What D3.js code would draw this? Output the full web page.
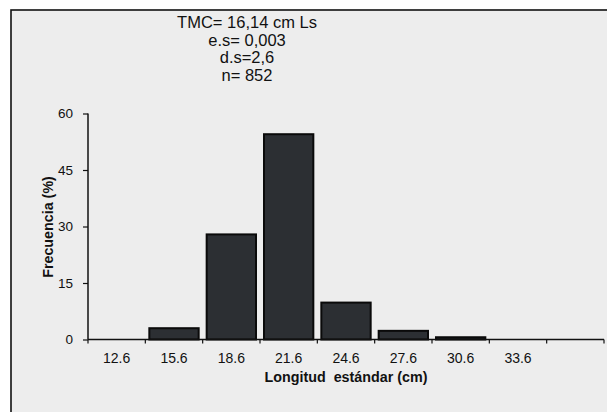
<!DOCTYPE html>
<html><head><meta charset="utf-8">
<script src="https://cdn.jsdelivr.net/npm/d3@7"></script>
<style>
html,body{margin:0;padding:0;background:#fff;}
svg{display:block;font-family:"Liberation Sans",Arial,sans-serif;}
</style></head>
<body>
<svg id="c" width="607" height="412"></svg>
<script>
const categories = ["12.6","15.6","18.6","21.6","24.6","27.6","30.6","33.6",""];
const frecuencia = [0, 3.0, 27.9, 54.5, 9.8, 2.3, 0.6, 0, 0];
const yTicks = [0, 15, 30, 45, 60];
const statLines = ["TMC= 16,14 cm Ls", "e.s= 0,003", "d.s=2,6", "n= 852"];
const xTitle = "Longitud\u00a0 estándar (cm)";
const yTitle = "Frecuencia (%)";

const svg = d3.select("#c");
// frame
svg.append("rect").attr("x",11).attr("y",10).attr("width",620).attr("height",420)
  .attr("fill","#ededed").attr("stroke","#111").attr("stroke-width",1.6);

const x = d3.scaleBand().domain(categories).range([88, 604]).padding(0);
const y = d3.scaleLinear().domain([0, 60]).range([339.5, 113.5]);

// bars
svg.append("g").selectAll("rect").data(categories.map((c,i)=>({c, v:frecuencia[i]})).filter(d=>d.v>0))
  .join("rect")
  .attr("x", d => x(d.c) + 4)
  .attr("width", x.bandwidth() - 8)
  .attr("y", d => y(d.v))
  .attr("height", d => y(0) - y(d.v))
  .attr("fill", "#2c2f33")
  .attr("stroke", "#0a0a0a")
  .attr("stroke-width", 2);

// y axis
const ya = svg.append("g").attr("transform","translate(88,0)")
  .call(d3.axisLeft(y).tickValues(yTicks).tickSize(5).tickPadding(10).tickFormat(d3.format("d")));
// x axis (ticks at band boundaries)
const xa = svg.append("g").attr("transform",`translate(0,${y(0)})`)
  .call(d3.axisBottom(x).tickSize(0).tickPadding(12));
const bounds = categories.map(c => x(c)).concat([x(categories[categories.length-1]) + x.bandwidth()]);
svg.append("g").selectAll("line").data(bounds).join("line")
  .attr("x1", d=>d).attr("x2", d=>d).attr("y1", y(0)).attr("y2", y(0)+4)
  .attr("stroke","#111").attr("stroke-width",1.2);

[ya, xa].forEach(g => {
  g.select(".domain").attr("stroke","#111").attr("stroke-width",1.5);
  g.selectAll(".tick line").attr("stroke","#111").attr("stroke-width",1.2);
  g.selectAll("text").attr("fill","#111").attr("font-family","'Liberation Sans',Arial,sans-serif");
});
ya.selectAll("text").style("font-size","13.5px");
xa.selectAll("text").style("font-size","14px");
ya.select(".domain").attr("d", `M0,${y(60)}V${y(0)}`);
xa.select(".domain").attr("d", `M${x.range()[0]},0H${x.range()[1]}`);
xa.selectAll(".tick text").attr("dy","0.85em");

// titles
svg.append("text").attr("x", 346).attr("y", 382).attr("text-anchor","middle")
  .attr("font-weight","bold").style("font-size","14.3px").attr("fill","#111").text(xTitle);
svg.append("text").attr("transform","translate(53,227) rotate(-90)").attr("text-anchor","middle")
  .attr("font-weight","bold").style("font-size","14.3px").attr("fill","#111").text(yTitle);

// stats block
svg.append("g").selectAll("text").data(statLines).join("text")
  .attr("x", 247).attr("y", (d,i) => 28 + i*17.5).attr("text-anchor","middle")
  .style("font-size","16.5px").attr("fill","#111").text(d=>d);
</script>
</body></html>
